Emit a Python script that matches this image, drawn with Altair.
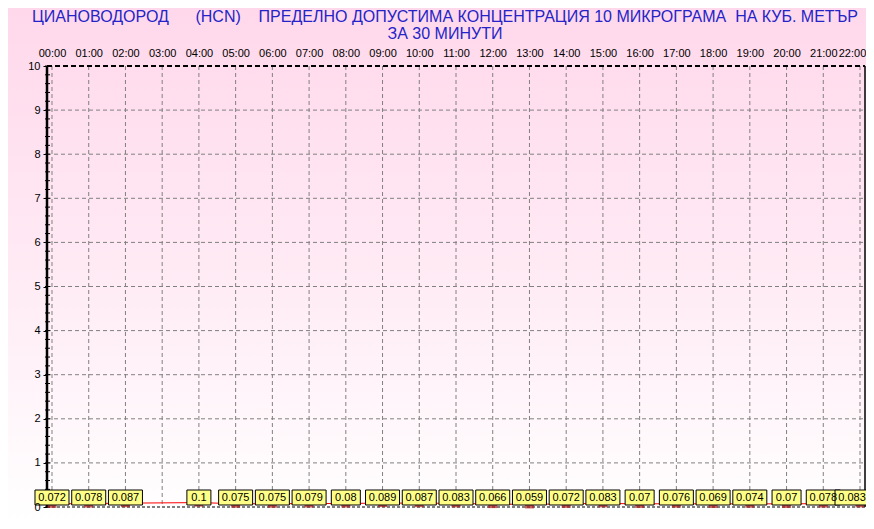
import altair as alt
import pandas as pd

hours = ["00:00", "01:00", "02:00", "03:00", "04:00", "05:00", "06:00", "07:00",
         "08:00", "09:00", "10:00", "11:00", "12:00", "13:00", "14:00", "15:00",
         "16:00", "17:00", "18:00", "19:00", "20:00", "21:00", "22:00"]
values = [0.072, 0.078, 0.087, None, 0.1, 0.075, 0.075, 0.079, 0.08, 0.089, 0.087,
          0.083, 0.066, 0.059, 0.072, 0.083, 0.07, 0.076, 0.069, 0.074, 0.07, 0.078, 0.083]
y_ticks = [0, 1, 2, 3, 4, 5, 6, 7, 8, 9, 10]

NB = "\u00a0"
title_lines = [
    "ЦИАНОВОДОРОД" + NB * 6 + "(HCN)" + NB * 4 + "ПРЕДЕЛНО ДОПУСТИМА КОНЦЕНТРАЦИЯ 10 МИКРОГРАМА" + NB * 2 + "НА КУБ. МЕТЪР",
    "ЗА 30 МИНУТИ",
]

df = pd.DataFrame({"time": hours, "v": values})
df["label"] = [None if v is None else str(v) for v in values]

W, H = 818, 441
PAD_L, PAD_T, PAD_R, PAD_B = 39, 58, 1, 14
FONT = "Liberation Sans"
LAST = hours[-1]

xscale = alt.Scale(type="point", domain=hours, padding=0.136)
yscale = alt.Scale(domain=[0, 10], nice=False, zero=False)

x_axis = alt.Axis(orient="top", grid=False, ticks=False, domain=False, labelAngle=0,
                  labelPadding=8, labelFont=FONT, labelFontSize=11, labelColor="black",
                  labelOffset={"condition": {"test": f"datum.value === '{LAST}'", "value": -8}, "value": 0},
                  title=None, zindex=1)
y_axis = alt.Axis(values=y_ticks, grid=False, domain=False,
                  tickColor="black", tickSize=4, labelFont=FONT, labelFontSize=11,
                  labelColor="black", labelPadding=3, title=None, format="d", zindex=1)

def X():
    return alt.X("time:O", scale=xscale, axis=x_axis)

def Y(field):
    return alt.Y(field, scale=yscale, axis=y_axis)

one = pd.DataFrame({"a": [0]})

grad = alt.LinearGradient(
    gradient="linear",
    stops=[alt.GradientStop(color="#FFD8EB", offset=0),
           alt.GradientStop(color="#FFEAF4", offset=0.5),
           alt.GradientStop(color="#FFFFFF", offset=1)],
    x1=0, x2=0, y1=0, y2=1,
)

bg = alt.Chart(one).mark_rect(fill=grad, clip=False).encode(
    x=alt.value(-PAD_L), x2=alt.value(W + PAD_R),
    y=alt.value(-PAD_T), y2=alt.value(H + PAD_B)
)

vgrid = alt.Chart(df).mark_rule(color="#808080", strokeDash=[4, 3], strokeWidth=1).encode(
    x=X(), y=alt.value(0), y2=alt.value(H),
)

hgrid = alt.Chart(alt.sequence(1, 10, as_="g")).mark_rule(
    color="#808080", strokeDash=[4, 3], strokeWidth=1
).encode(
    y=Y("g:Q"), x=alt.value(0), x2=alt.value(W),
)

minor = alt.Chart(alt.sequence(0, 10.01, 0.2, as_="m")).mark_rule(color="black", strokeWidth=1).encode(
    y=Y("m:Q"), x=alt.value(-2), x2=alt.value(3)
)

top_border = alt.Chart(one).mark_rule(color="black", strokeDash=[5, 3], strokeWidth=2).encode(
    x=alt.value(0), x2=alt.value(W), y=alt.value(0)
)
bottom_border = alt.Chart(one).mark_rule(color="black", strokeDash=[3, 2], strokeWidth=1).encode(
    x=alt.value(0), x2=alt.value(W), y=alt.value(H)
)
right_border = alt.Chart(one).mark_rule(color="black", strokeWidth=1.5).encode(
    x=alt.value(W), y=alt.value(0), y2=alt.value(H)
)
left_axis_line = alt.Chart(one).mark_rule(color="black", strokeWidth=2.5).encode(
    x=alt.value(0), y=alt.value(0), y2=alt.value(H)
)

valid = alt.Chart(df).transform_filter("isValid(datum.v)").transform_calculate(
    w="length(datum.label) * 5 + 9",
    dx=f"datum.time === '{LAST}' ? -8 : 0",
)

line = valid.mark_line(color="#FF0000", strokeWidth=1).encode(x=X(), y=Y("v:Q"))

markers = valid.mark_tick(color="#B01818", thickness=4, size=9, yOffset=2).encode(
    x=X(), y=Y("v:Q")
)

boxes = valid.mark_bar(fill="#FFFF88", stroke="black", strokeWidth=1, clip=False).encode(
    x=X(),
    xOffset=alt.XOffset("dx:Q", scale=None),
    y=alt.value(H - 17), y2=alt.value(H - 2),
    size=alt.Size("w:Q", scale=None, legend=None),
)

texts = valid.mark_text(font=FONT, fontSize=11, color="black", baseline="middle", clip=False).encode(
    x=X(),
    xOffset=alt.XOffset("dx:Q", scale=None),
    y=alt.value(H - 9.5),
    text="label:N",
)

chart = alt.layer(
    bg, vgrid, hgrid, minor, top_border, bottom_border, right_border, left_axis_line,
    line, markers, boxes, texts,
).properties(
    width=W, height=H,
    title=alt.TitleParams(text=title_lines, color="#2424C8", fontSize=16, font=FONT,
                          fontWeight="normal", anchor="middle", dx=-11, offset=-34,
                          lineHeight=17, zindex=1),
    autosize=alt.AutoSizeParams(type="none"),
    padding={"left": PAD_L, "top": PAD_T, "right": PAD_R, "bottom": PAD_B},
).configure_view(stroke=None).configure(background="#FFFFFF")

chart.save("out.html", embed_options={"renderer": "svg", "actions": False})
